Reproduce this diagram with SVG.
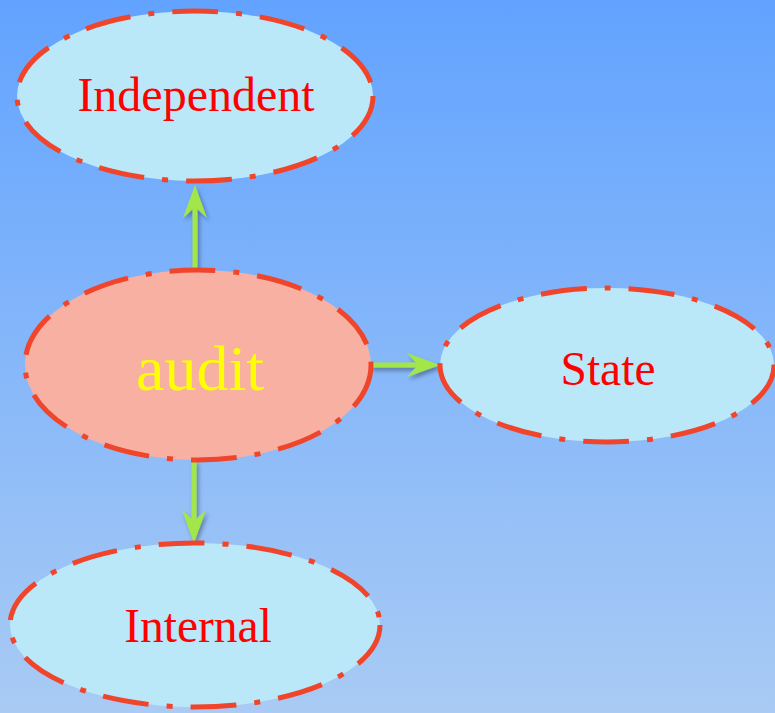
<svg xmlns="http://www.w3.org/2000/svg" width="775" height="713" viewBox="0 0 775 713">
<defs>
<linearGradient id="bg" x1="0" y1="0" x2="0" y2="1">
<stop offset="0" stop-color="#62a3ff"/>
<stop offset="1" stop-color="#a9cbf4"/>
</linearGradient>
<filter id="sh" x="-50%" y="-50%" width="200%" height="200%">
<feDropShadow dx="2" dy="3" stdDeviation="2" flood-color="#000" flood-opacity="0.35"/>
</filter>
<marker id="ah" markerUnits="userSpaceOnUse" markerWidth="34" markerHeight="26" refX="13" refY="12" orient="auto" overflow="visible">
<path d="M33,12 L0,0 L11,12 L0,24 Z" fill="#a3e64a"/>
</marker>
<style>
.node ellipse{stroke:#f0452a;stroke-width:5;stroke-dasharray:46 18 6 18;}
.leaf ellipse{fill:#bae8f9;}
.root ellipse{fill:#f8b0a2;}
text{font-family:"Liberation Serif","Times New Roman",serif;text-anchor:middle;}
.leaf text{fill:#ff0000;}
.root text{fill:#ffff00;}
.conn line{stroke:#a3e64a;stroke-width:5;marker-end:url(#ah);}
</style>
</defs>
<rect x="0" y="0" width="775" height="713" fill="url(#bg)"/>
<g id="connectors" class="conn" filter="url(#sh)">
<line x1="195" y1="272" x2="195" y2="205"/>
<line x1="370" y1="365" x2="420" y2="365"/>
<line x1="194" y1="461" x2="194" y2="523"/>
</g>
<g id="node-independent" class="node leaf">
<ellipse cx="195" cy="96" rx="178" ry="85"/>
<text x="196" y="111" font-size="48">Independent</text>
</g>
<g id="node-audit" class="node root">
<ellipse cx="198" cy="365" rx="173" ry="95"/>
<text x="200" y="390" font-size="64">audit</text>
</g>
<g id="node-state" class="node leaf">
<ellipse cx="607" cy="365" rx="167" ry="77"/>
<text x="608" y="385" font-size="47.5">State</text>
</g>
<g id="node-internal" class="node leaf">
<ellipse cx="195" cy="625" rx="185" ry="82"/>
<text x="198" y="642" font-size="47.5">Internal</text>
</g>
</svg>
